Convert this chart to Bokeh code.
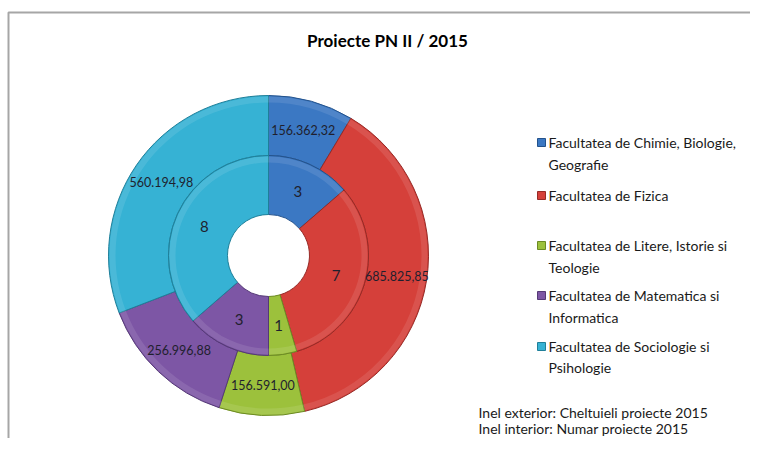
import numpy as np
from bokeh.plotting import figure
from bokeh.models import Range1d, ColumnDataSource
from bokeh.core.properties import value
from bokeh.embed import file_html
from bokeh.resources import INLINE

categories = ["Facultatea de Chimie, Biologie, Geografie",
              "Facultatea de Fizica",
              "Facultatea de Litere, Istorie si Teologie",
              "Facultatea de Matematica si Informatica",
              "Facultatea de Sociologie si Psihologie"]
legend_lines = [["Facultatea de Chimie, Biologie,", "Geografie"],
                ["Facultatea de Fizica"],
                ["Facultatea de Litere, Istorie si", "Teologie"],
                ["Facultatea de Matematica si", "Informatica"],
                ["Facultatea de Sociologie si", "Psihologie"]]
outer_values = [156362.32, 685825.85, 156591.00, 256996.88, 560194.98]
outer_labels = ["156.362,32", "685.825,85", "156.591,00", "256.996,88", "560.194,98"]
inner_values = [3, 7, 1, 3, 8]
colors = ["#3B78C3", "#D5403A", "#9CC13C", "#7D56A5", "#36B2D4"]
edge_colors = ["#23528C", "#962A26", "#6C8A23", "#553976", "#1F7F99"]

W, H = 750, 438
OX, OY = 0, 0
FONT = "Lato"

p = figure(width=W, height=H, x_range=Range1d(OX, OX + W),
           y_range=Range1d(454 - (OY + H), 454 - OY),
           output_backend="svg", toolbar_location=None, min_border=0)
p.axis.visible = False
p.grid.visible = False
p.outline_line_color = None
p.background_fill_color = "white"
p.border_fill_color = "white"

def Y(py):
    return 454 - py

# chart frame (left and top edges)
p.line([8, 8, 770], [Y(460), Y(12), Y(12)], line_color="#A6A6A6", line_width=2)

cx, cy = 268, Y(255)
r_hole, r_mid, r_out = 41, 100, 160

def ring(vals):
    v = np.array(vals, dtype=float)
    frac = v / v.sum()
    cum = np.concatenate([[0], np.cumsum(frac)])
    start = np.pi / 2 - 2 * np.pi * cum[:-1]
    end = np.pi / 2 - 2 * np.pi * cum[1:]
    mid = (start + end) / 2
    return start, end, mid

# outer ring
s, e, m = ring(outer_values)
src_o = ColumnDataSource(dict(s=s, e=e, c=colors, lc=edge_colors))
p.annular_wedge(x=cx, y=cy, inner_radius=r_mid, outer_radius=r_out, start_angle="s",
                end_angle="e", direction="clock", fill_color="c", line_color="lc",
                line_width=1, source=src_o)
p.annular_wedge(x=cx, y=cy, inner_radius=r_out - 7, outer_radius=r_out - 1, start_angle="s",
                end_angle="e", direction="clock", fill_color="white", fill_alpha=0.10,
                line_color=None, source=src_o)
rl = (r_mid + r_out) / 2
lab_o = ColumnDataSource(dict(x=cx + rl * np.cos(m), y=cy + rl * np.sin(m), t=outer_labels))

# inner ring
s2, e2, m2 = ring(inner_values)
src_i = ColumnDataSource(dict(s=s2, e=e2, c=colors, lc=edge_colors))
p.annular_wedge(x=cx, y=cy, inner_radius=r_hole, outer_radius=r_mid, start_angle="s",
                end_angle="e", direction="clock", fill_color="c", line_color="lc",
                line_width=1, source=src_i)
p.annular_wedge(x=cx, y=cy, inner_radius=r_mid - 7, outer_radius=r_mid - 1, start_angle="s",
                end_angle="e", direction="clock", fill_color="white", fill_alpha=0.10,
                line_color=None, source=src_i)
ri = (r_hole + r_mid) / 2
lab_i = ColumnDataSource(dict(x=cx + ri * np.cos(m2), y=cy + ri * np.sin(m2),
                              t=[str(v) for v in inner_values]))

p.text(x="x", y="y", text="t", source=lab_o, text_align="center", text_baseline="middle",
       text_font=value(FONT), text_font_size="12.5px", text_color="#1F1F2E")
p.text(x="x", y="y", text="t", source=lab_i, text_align="center", text_baseline="middle",
       text_font=value(FONT), text_font_size="15px", text_color="#1F1F2E")

# title
p.text(x=[387], y=[Y(40)], text=["Proiecte PN II / 2015"], text_align="center",
       text_baseline="middle", text_font=value(FONT), text_font_size="17px",
       text_font_style="bold", text_color="#000000")

# legend
row_y = [[142, 164], [195], [245, 267], [295, 317], [346, 367]]
sq_x, sq_y, tx_x, tx_y, tx_t = [], [], [], [], []
for lines, ys in zip(legend_lines, row_y):
    sq_x.append(541)
    sq_y.append(Y(ys[0]))
    for t, yy in zip(lines, ys):
        tx_x.append(548)
        tx_y.append(Y(yy))
        tx_t.append(t)
p.rect(x=sq_x, y=sq_y, width=8, height=8, fill_color=colors, line_color=edge_colors)
p.text(x=tx_x, y=tx_y, text=tx_t, text_align="left", text_baseline="middle",
       text_font=value(FONT), text_font_size="14px", text_color="#1A1A1A")

# footnote
p.text(x=[478, 478], y=[Y(412), Y(428)],
       text=["Inel exterior: Cheltuieli proiecte 2015", "Inel interior: Numar proiecte 2015"],
       text_align="left", text_baseline="middle", text_font=value(FONT),
       text_font_size="14px", text_color="#1A1A1A")

open("out.html", "w").write(file_html(p, INLINE))
